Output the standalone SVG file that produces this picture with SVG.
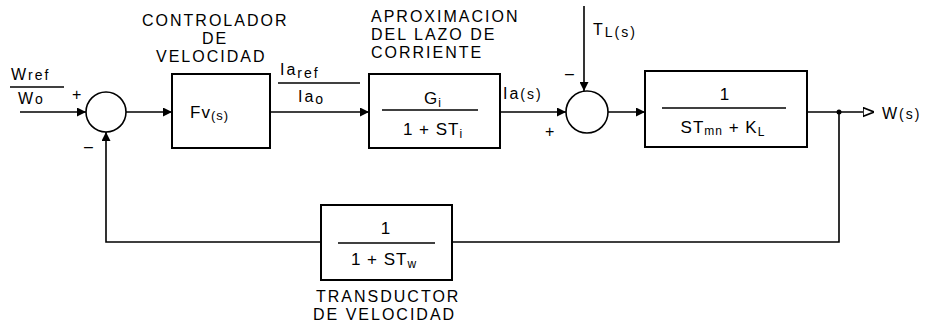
<svg xmlns="http://www.w3.org/2000/svg" width="939" height="329" viewBox="0 0 939 329">
<defs>
<marker id="ah" viewBox="0 0 10 10" refX="10" refY="5" markerWidth="9" markerHeight="9" markerUnits="userSpaceOnUse" orient="auto">
<path d="M0,0 L10,5 L0,10 z" fill="#000"/>
</marker>
<marker id="ao" viewBox="0 0 10 10" refX="10" refY="5" markerWidth="11" markerHeight="11" markerUnits="userSpaceOnUse" orient="auto">
<path d="M0,1 L10,5 L0,9 z" fill="#fff" stroke="#000" stroke-width="1.5"/>
</marker>
</defs>
<style>
text{font-family:"Liberation Sans",Arial,sans-serif;fill:#000}
.lab{font-size:16px;letter-spacing:2px}
.sm{font-size:16px;letter-spacing:2px}
.mid{text-anchor:middle}
.blk{fill:#fff;stroke:#000;stroke-width:2}
.ln{fill:none;stroke:#000;stroke-width:1.6}
.fr{stroke:#000;stroke-width:1.4}
.eq{font-size:17px;letter-spacing:1px}
</style>
<rect width="939" height="329" fill="#fff"/>

<g id="connectors">
<line class="ln" x1="20" y1="112" x2="86" y2="112" marker-end="url(#ah)"/>
<line class="ln" x1="126" y1="112" x2="172" y2="112" marker-end="url(#ah)"/>
<line class="ln" x1="270" y1="112" x2="369" y2="112" marker-end="url(#ah)"/>
<line class="ln" x1="500" y1="112" x2="566" y2="112" marker-end="url(#ah)"/>
<line class="ln" x1="584" y1="6" x2="584" y2="91" marker-end="url(#ah)"/>
<line class="ln" x1="608" y1="112" x2="645" y2="112" marker-end="url(#ah)"/>
<line class="ln" x1="807" y1="112" x2="874" y2="112" marker-end="url(#ao)"/>
<path class="ln" d="M839,112 V242 H452"/>
<path class="ln" d="M321,242 H106 V132" marker-end="url(#ah)"/>
<circle cx="839" cy="112" r="2.5" fill="#000"/>
</g>

<g id="input-label">
<text class="sm" x="11" y="80">W<tspan font-size="14">ref</tspan></text>
<line class="fr" x1="10" y1="87" x2="64" y2="87"/>
<text class="sm" x="18" y="104">W<tspan font-size="14">o</tspan></text>
<text class="sm" x="72" y="100">+</text>
<text class="sm" x="84" y="152">–</text>
</g>

<g id="sum1">
<circle cx="106" cy="112" r="20" fill="#fff" stroke="#000" stroke-width="1.6"/>
</g>

<g id="controlador">
<rect class="blk" x="172" y="74" width="98" height="74"/>
<text class="eq" x="190" y="118">Fv<tspan font-size="13" dy="2">(s)</tspan></text>
<text class="lab" x="142" y="26">CONTROLADOR</text>
<text class="lab" x="202" y="44">DE</text>
<text class="lab" x="156" y="62">VELOCIDAD</text>
</g>

<g id="iaref-label">
<text class="sm" x="280" y="75">Ia<tspan font-size="14" dy="3">ref</tspan></text>
<line class="fr" x1="278" y1="83" x2="360" y2="83"/>
<text class="sm" x="298" y="102">Ia<tspan font-size="14" dy="2">o</tspan></text>
</g>

<g id="corriente">
<rect class="blk" x="369" y="74" width="131" height="74"/>
<text class="eq mid" x="433" y="104">G<tspan font-size="12" dy="3">i</tspan></text>
<line class="fr" x1="382" y1="110" x2="478" y2="110"/>
<text class="eq mid" x="433" y="135">1 + ST<tspan font-size="12" dy="3">i</tspan></text>
<text class="lab" x="371" y="22">APROXIMACION</text>
<text class="lab" x="371" y="40">DEL LAZO DE</text>
<text class="lab" x="371" y="58">CORRIENTE</text>
</g>

<g id="ia-label">
<text class="sm" x="503" y="99">Ia<tspan font-size="14">(s)</tspan></text>
<text class="sm" x="545" y="137">+</text>
</g>

<g id="sum2">
<circle cx="587" cy="112" r="21" fill="#fff" stroke="#000" stroke-width="1.6"/>
<text class="sm" x="565" y="79">–</text>
<text class="sm" x="593" y="35">T<tspan font-size="14" dy="2">L(s)</tspan></text>
</g>

<g id="planta">
<rect class="blk" x="645" y="71" width="162" height="76"/>
<text class="eq mid" x="725" y="100">1</text>
<line class="fr" x1="662" y1="108" x2="786" y2="108"/>
<text class="eq mid" x="723" y="133">ST<tspan font-size="12" dy="2">mn</tspan><tspan dy="-2"> + K</tspan><tspan font-size="12" dy="3">L</tspan></text>
</g>

<g id="output-label">
<text class="sm" x="882" y="119">W<tspan font-size="14">(s)</tspan></text>
</g>

<g id="transductor">
<rect class="blk" x="321" y="205" width="131" height="75"/>
<text class="eq mid" x="386" y="234">1</text>
<line class="fr" x1="338" y1="243" x2="435" y2="243"/>
<text class="eq mid" x="384" y="265">1 + ST<tspan font-size="12" dy="3">w</tspan></text>
<text class="lab" x="316" y="302">TRANSDUCTOR</text>
<text class="lab" x="313" y="320">DE VELOCIDAD</text>
</g>
</svg>
